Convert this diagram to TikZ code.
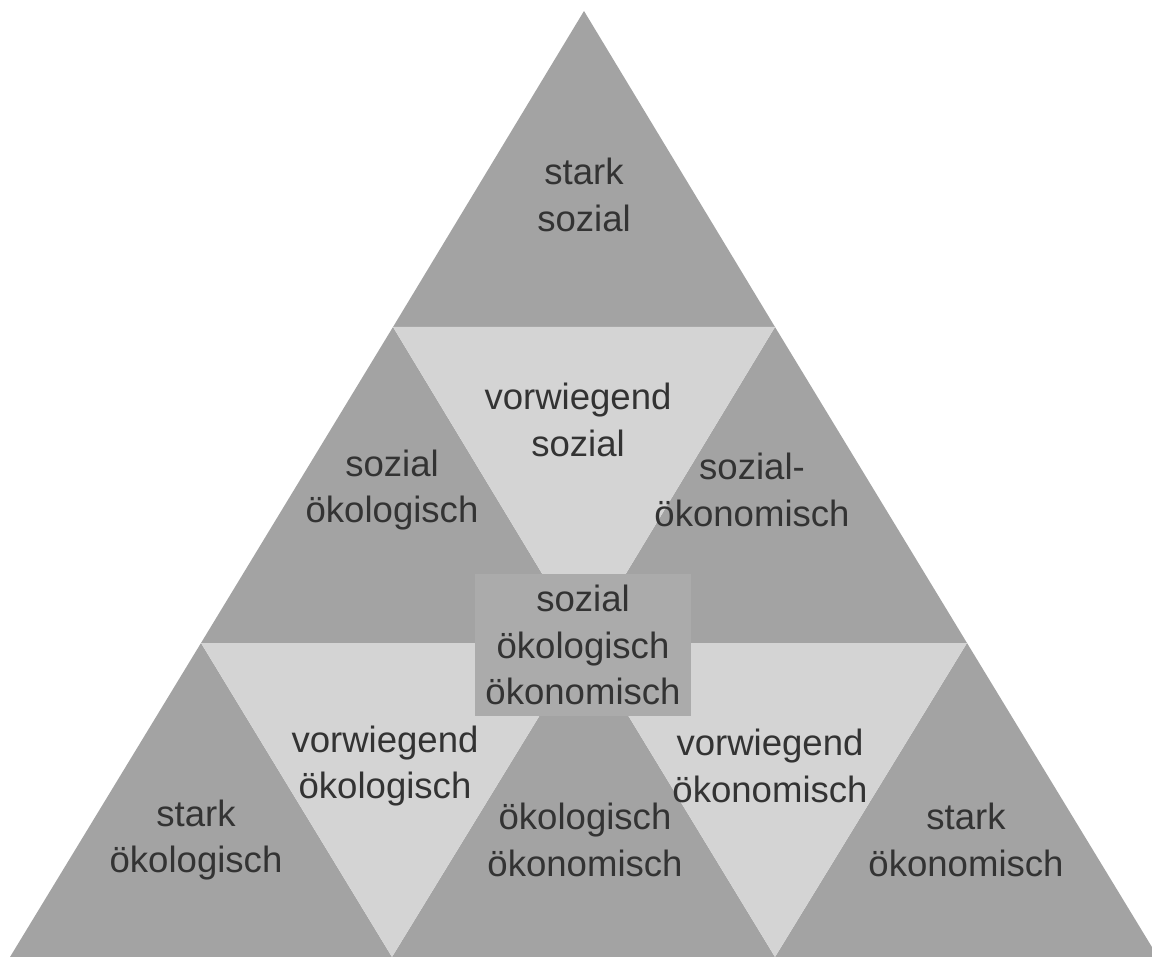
\documentclass[tikz,border=0pt]{standalone}
\usepackage{fontspec}
\setmainfont{Liberation Sans}
\usetikzlibrary{positioning}
\definecolor{darkfield}{HTML}{A3A3A3}
\definecolor{lightfield}{HTML}{D4D4D4}
\definecolor{boxfield}{HTML}{ABABAB}
\definecolor{labeltext}{HTML}{333333}
\begin{document}
\begin{tikzpicture}[x=0.025cm,y=-0.025cm,
  dark/.style={fill=darkfield},
  light/.style={fill=lightfield},
  lbl/.style={align=center,text=labeltext,font=\fontsize{26}{33}\selectfont,inner sep=0pt}]
\useasboundingbox (0,0) rectangle (1152,957);
\clip (0,0) rectangle (1152,957);
% grid points
\coordinate (T) at (584,11);
\coordinate (L1) at (393,327);
\coordinate (R1) at (775,327);
\coordinate (L2) at (201,643);
\coordinate (M2) at (584,643);
\coordinate (R2) at (967,643);
\coordinate (B0) at (10,957);
\coordinate (B1) at (392,957);
\coordinate (B2) at (775,957);
\coordinate (B3) at (1158,957);
% fields
\fill[dark] (T) -- (L1) -- (R1) -- cycle;
\fill[dark] (L1) -- (L2) -- (M2) -- cycle;
\fill[dark] (R1) -- (M2) -- (R2) -- cycle;
\fill[light] (L1) -- (R1) -- (M2) -- cycle;
\fill[dark] (L2) -- (B0) -- (B1) -- cycle;
\fill[dark] (M2) -- (B1) -- (B2) -- cycle;
\fill[dark] (R2) -- (B2) -- (B3) -- cycle;
\fill[light] (L2) -- (M2) -- (B1) -- cycle;
\fill[light] (M2) -- (R2) -- (B2) -- cycle;
\fill[boxfield] (475,574) rectangle (691,716);
% labels
\node[lbl] (starksoz) at (584,195) {stark\\sozial};
\node[lbl] (vorwsoz) at (578,420) {vorwiegend\\sozial};
\node[lbl] (sozoek) at (392,490) {sozial\\ökologisch};
\node[lbl] (sozoekon) at (752,490) {sozial-\\ökonomisch};
\node[lbl] (alle) at (583,645) {sozial\\ökologisch\\ökonomisch};
\node[lbl] (vorwoek) at (385,766) {vorwiegend\\ökologisch};
\node[lbl] (vorwoekon) at (770,766) {vorwiegend\\ökonomisch};
\node[lbl] (starkoek) at (196,840) {stark\\ökologisch};
\node[lbl] (oekoekon) at (585,840) {ökologisch\\ökonomisch};
\node[lbl] (starkoekon) at (966,840) {stark\\ökonomisch};
\end{tikzpicture}
\end{document}
